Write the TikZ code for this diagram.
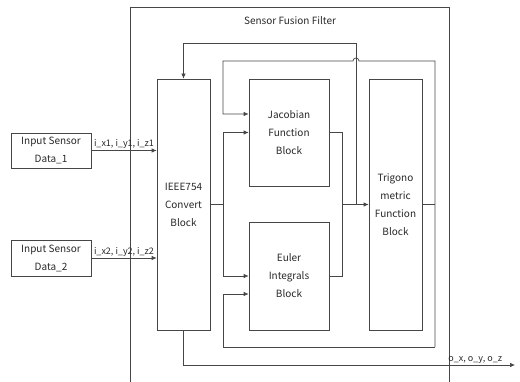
\documentclass[tikz,border=0pt]{standalone}
\usepackage{fontspec}
\setmainfont{Noto Sans CJK KR}
\usepackage{tikz}
\usetikzlibrary{arrows.meta,positioning,calc}
\definecolor{linegray}{RGB}{70, 70, 70}
\definecolor{textdark}{RGB}{40, 40, 40}
\tikzset{
    blockbox/.style={draw=linegray, line width=0.7pt, align=center, text=textdark,
        font=\fontsize{10}{18}\selectfont, inner sep=0pt},
    wire/.style={draw=linegray, line width=0.7pt},
    feed/.style={wire, -{Latex[length=5pt,width=4.5pt]}},
    sig/.style={text=textdark, font=\fontsize{9}{11}\selectfont, inner sep=1.5pt}
}

\begin{document}
\begin{tikzpicture}[x=1pt, y=-1pt]
    \useasboundingbox (0,0) rectangle (520,382);
    \draw[wire] (130,382) -- (130,7) -- (449,7) -- (449,382);
    \node[sig, font=\fontsize{10}{12}\selectfont] (title) at (290,21) {Sensor Fusion Filter};

    \node[blockbox, minimum width=80pt, minimum height=35pt] (in1) at (51,150.5) {Input Sensor\\Data\_1};
    \node[blockbox, minimum width=80pt, minimum height=36pt] (in2) at (51,258) {Input Sensor\\Data\_2};
    \node[blockbox, minimum width=53pt, minimum height=251pt] (conv) at (183.5,204.5) {IEEE754\\Convert\\Block};
    \node[blockbox, minimum width=80pt, minimum height=107pt] (jac) at (289,132.5) {Jacobian\\Function\\Block};
    \node[blockbox, minimum width=80pt, minimum height=108pt] (euler) at (289,276) {Euler\\Integrals\\Block};
    \node[blockbox, minimum width=53pt, minimum height=251pt] (trig) at (395.5,204.5) {Trigono\\metric\\Function\\Block};

    \coordinate (busL) at (223,204.5);
    \coordinate (merge) at (342,204.5);
    \coordinate (fbJ) at (356,204.5);
    \coordinate (fbTop) at (356,43);
    \coordinate (loopTL) at (223,61);
    \coordinate (loopTR) at (435,61);
    \coordinate (loopBL) at (223,347);
    \coordinate (loopBR) at (435,347);
    \coordinate (out) at (515,365);

    \draw[feed] (in1.east) -- (in1.east -| conv.west) node[sig, midway, above] {i\_x1, i\_y1, i\_z1};
    \draw[feed] (in2.east) -- (in2.east -| conv.west) node[sig, midway, above] {i\_x2, i\_y2, i\_z2};

    \draw[wire] (conv.east) -- (busL);
    \draw[feed] (busL) |- (jac.west);
    \draw[feed] (busL) |- (euler.west);

    \draw[wire] (jac.east) -| (merge);
    \draw[wire] (euler.east) -| (merge);
    \draw[feed] (merge) -- (trig.west);
    \draw[feed] (fbJ) -- (fbTop) -| (conv.north);

    \draw[wire] (trig.east) -- (trig.east -| loopTR);
    \draw[feed] (loopBR) -- (loopTR) -- (359,61) arc[start angle=0, end angle=180, radius=3pt] -- (loopTL) |- ([yshift=18.5pt]jac.west);
    \draw[feed] (loopBR) -- (loopBL) |- ([yshift=-18pt]euler.west);

    \draw[feed] (conv.south) |- (out) node[sig, pos=0.94, above] {o\_x, o\_y, o\_z};
\end{tikzpicture}
\end{document}
